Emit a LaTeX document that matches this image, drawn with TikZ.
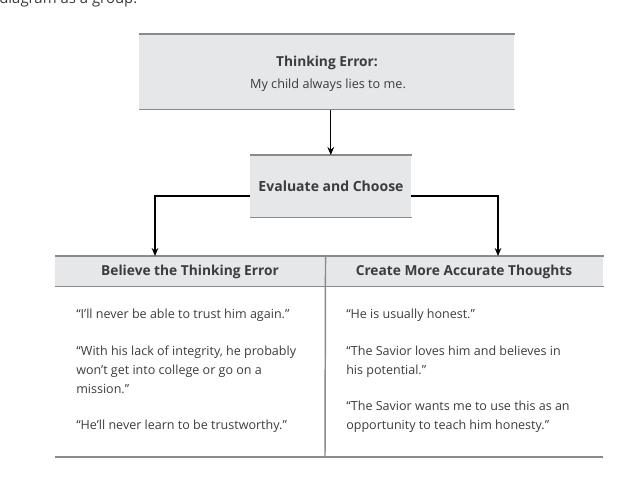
\documentclass[tikz,border=0pt]{standalone}
\usepackage{fontspec}
\setmainfont{Open Sans}
\usetikzlibrary{arrows.meta}
\definecolor{boxfill}{HTML}{E6E7E8}
\definecolor{rulegray}{HTML}{8A8A8A}
\definecolor{txt}{HTML}{3C3C3C}
\tikzset{
  band/.style={fill=boxfill, draw=none, inner sep=0pt, anchor=north west},
  rulel/.style={draw=rulegray, line width=1.1pt},
  conn/.style={draw=black, line width=0.9pt, -{Stealth[length=6pt,width=5pt]}},
  bodytxt/.style={font=\fontsize{9.4}{13.9}\selectfont, text=txt, anchor=base west, inner sep=0pt, align=left},
  headtxt/.style={font=\fontsize{10.3}{12}\selectfont\bfseries, text=txt, anchor=base, inner sep=0pt}
}
\begin{document}
\begin{tikzpicture}[x=0.75pt, y=-0.75pt]
\useasboundingbox (0,0) rectangle (640,486);
\begin{scope}
\clip (0,0) rectangle (640,486);
\node[font=\fontsize{11.2}{13}\selectfont, text=txt, anchor=base west, inner sep=0pt] (intro) at (-1,3) {diagram as a group.};
\end{scope}
% top box
\node[band, minimum width=375*0.75pt, minimum height=75*0.75pt] (top) at (139,34) {};
\draw[rulel] (top.north west) -- (top.north east);
\draw[rulel] (top.south west) -- (top.south east);
\node[headtxt] (toptitle) at (327,66) {Thinking Error:};
\node[font=\fontsize{9.5}{11}\selectfont, text=txt, anchor=base, inner sep=0pt] (topline) at (328,88) {My child always lies to me.};
% evaluate box
\node[band, minimum width=161*0.75pt, minimum height=62*0.75pt] (eval) at (250,155) {};
\draw[rulel] (eval.north west) -- (eval.north east);
\draw[rulel] (eval.south west) -- (eval.south east);
\node[font=\fontsize{10.5}{12}\selectfont\bfseries, text=txt, anchor=base, inner sep=0pt] (evaltxt) at (331,191) {Evaluate and Choose};
\draw[conn] (top.south -| eval.north) -- (eval.north);
% table header
\node[band, minimum width=270*0.75pt, minimum height=30*0.75pt] (hdrL) at (55,256) {};
\node[band, minimum width=278*0.75pt, minimum height=30*0.75pt] (hdrR) at (325,256) {};
\draw[rulel] (hdrL.north west) -- (hdrR.north east);
\draw[rulel] (hdrL.south west) -- (hdrR.south east);
\coordinate (bl) at (55,457);
\coordinate (br) at (603,457);
\coordinate (mb) at (325,457);
\draw[rulel] (bl) -- (br);
\draw[rulel] (hdrL.north east) -- (mb);
\node[headtxt] (hL) at (190,275) {Believe the Thinking Error};
\node[headtxt] (hR) at (464,275) {Create More Accurate Thoughts};
% connectors
\coordinate (eL) at (250,196);
\coordinate (eR) at (411,196);
\coordinate (aL) at (155,256);
\coordinate (aR) at (498,256);
\draw[conn] (eL) -| (aL);
\draw[conn] (eR) -| (aR);
% left texts (anchor = baseline of last line)
\node[bodytxt] (l1) at (76,318) {“I’ll never be able to trust him again.”};
\node[bodytxt] (l2) at (76,393) {“With his lack of integrity, he probably\\won’t get into college or go on a\\mission.”};
\node[bodytxt] (l3) at (76,429) {“He’ll never learn to be trustworthy.”};
% right texts
\node[bodytxt] (r1) at (346,318) {“He is usually honest.”};
\node[bodytxt] (r2) at (346,374.5) {“The Savior loves him and believes in\\his potential.”};
\node[bodytxt] (r3) at (346,429) {“The Savior wants me to use this as an\\opportunity to teach him honesty.”};
\end{tikzpicture}
\end{document}
